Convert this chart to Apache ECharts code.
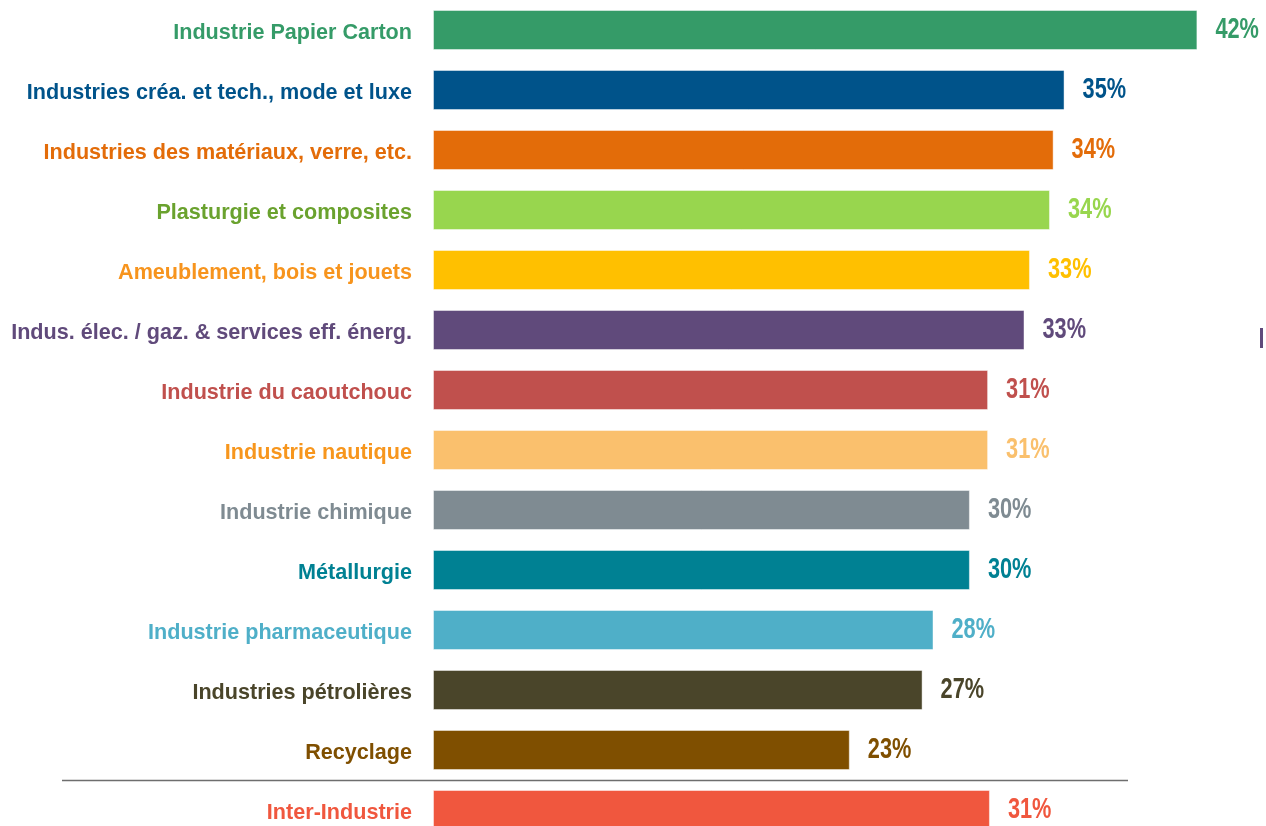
<!DOCTYPE html>
<html>
<head>
<meta charset="utf-8">
<style>
  html, body { margin: 0; padding: 0; background: #ffffff; }
  #chart { width: 1266px; height: 826px; }
</style>
<script src="https://cdn.jsdelivr.net/npm/echarts@6/dist/echarts.min.js"></script>
</head>
<body>
<div id="chart"></div>
<script>
// Sector names, top to bottom
const categories = [
  'Industrie Papier Carton',
  'Industries créa. et tech., mode et luxe',
  'Industries des matériaux, verre, etc.',
  'Plasturgie et composites',
  'Ameublement, bois et jouets',
  'Indus. élec. / gaz. & services eff. énerg.',
  'Industrie du caoutchouc',
  'Industrie nautique',
  'Industrie chimique',
  'Métallurgie',
  'Industrie pharmaceutique',
  'Industries pétrolières',
  'Recyclage',
  'Inter-Industrie'
];

// Share per sector, in percent
const values = [42.0, 34.7, 34.1, 33.9, 32.8, 32.5, 30.5, 30.5, 29.5, 29.5, 27.5, 26.9, 22.9, 30.6];

// Bar fill colours (also used for the value labels)
const barColors = [
  '#359b68', '#00538a', '#e36c09', '#98d64e', '#ffc000', '#604a7b', '#c0504d',
  '#fac06d', '#7f8b92', '#008193', '#4fafc8', '#4a452a', '#7f4f00', '#f0573e'
];

// Colours of the sector names on the left
const nameColors = [
  '#359b68', '#00538a', '#e36c09', '#6aa22e', '#f7941d', '#604a7b', '#c0504d',
  '#f7961d', '#7f8b92', '#008193', '#4fafc8', '#4a452a', '#7f4f00', '#f0573e'
];

const chart = echarts.init(document.getElementById('chart'), null, { renderer: 'canvas' });

const barData = values.map((v, i) => ({
  value: v,
  itemStyle: { color: barColors[i] }
}));

// Percentage labels, placed at the end of each bar and drawn condensed
const labelData = values.map((v, i) => [v, i]);

function renderValueLabel(params, api) {
  const end = api.coord([api.value(0), api.value(1)]);
  const i = params.dataIndex;
  return {
    type: 'text',
    x: end[0] + 18,
    y: end[1],
    scaleX: 0.75,
    style: {
      text: Math.round(values[i]) + '%',
      fill: barColors[i],
      font: 'bold 29px "Liberation Sans", Arial, sans-serif',
      align: 'left',
      verticalAlign: 'middle'
    },
    silent: true
  };
}

chart.setOption({
  animation: false,
  backgroundColor: '#ffffff',
  grid: { left: 433, top: 0, width: 819, height: 840, outerBoundsMode: 'none', containLabel: false },
  xAxis: {
    type: 'value',
    min: 0,
    max: 45,
    show: false
  },
  yAxis: {
    type: 'category',
    data: categories,
    inverse: true,
    axisLine: { show: false },
    axisTick: { show: false },
    splitLine: { show: false },
    axisLabel: {
      margin: 21,
      verticalAlign: 'top',
      lineHeight: 7,
      fontFamily: 'Liberation Sans, Arial, sans-serif',
      fontWeight: 'bold',
      fontSize: 21.6,
      color: (val, idx) => nameColors[idx]
    }
  },
  series: [
    {
      type: 'bar',
      data: barData,
      barWidth: 40,
      itemStyle: { borderColor: 'rgba(255,255,255,0.45)', borderWidth: 1 }
    },
    {
      type: 'custom',
      data: labelData,
      encode: { x: 0, y: 1 },
      renderItem: renderValueLabel,
      clip: false,
      z: 3
    }
  ],
  graphic: [
    {
      type: 'line',
      shape: { x1: 62, y1: 780.5, x2: 1128, y2: 780.5 },
      style: { stroke: '#6e6e6e', lineWidth: 1.6 }
    },
    {
      type: 'rect',
      shape: { x: 1260, y: 328, width: 3, height: 20 },
      style: { fill: '#604a7b' }
    }
  ]
});
</script>
</body>
</html>
